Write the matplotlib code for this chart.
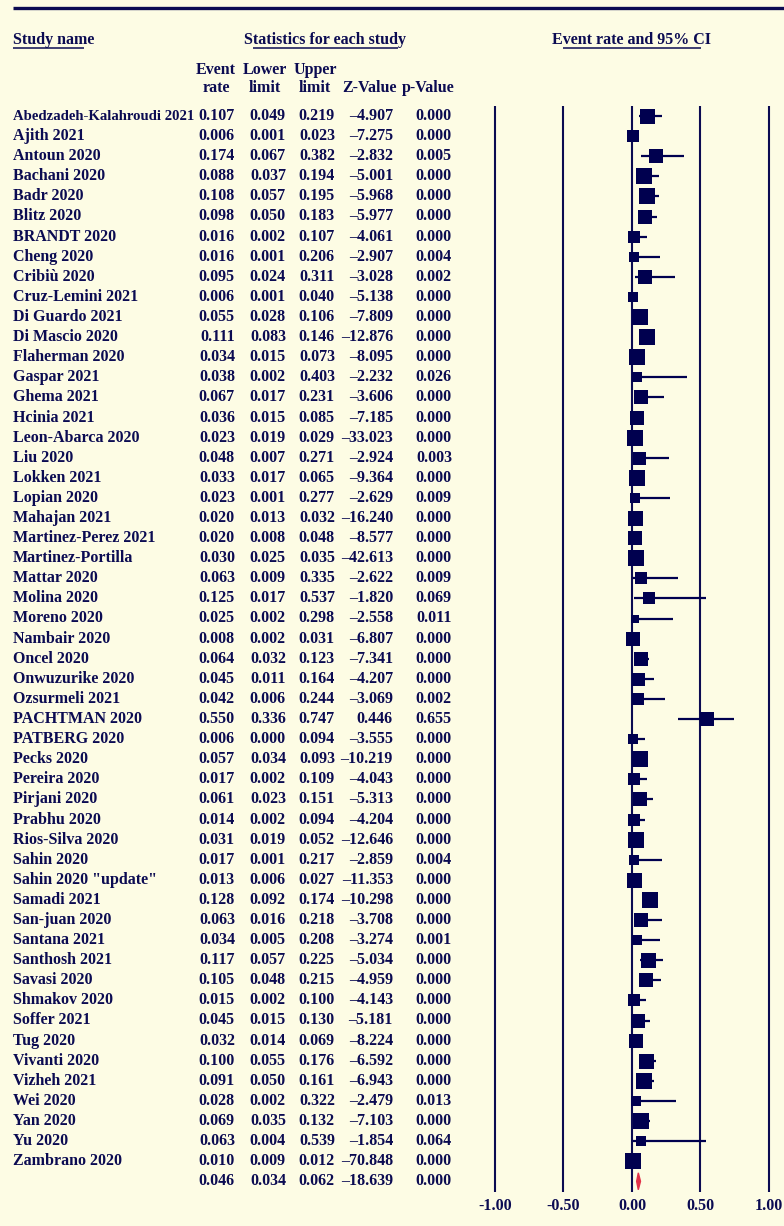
import matplotlib
matplotlib.use("Agg")
import matplotlib.pyplot as plt

# Study table (event rate, 95% CI, Z, p)
studies = ["Abedzadeh-Kalahroudi 2021", "Ajith 2021", "Antoun 2020", "Bachani 2020",
           "Badr 2020", "Blitz 2020", "BRANDT 2020", "Cheng 2020", "Cribiù 2020",
           "Cruz-Lemini 2021", "Di Guardo 2021", "Di Mascio 2020", "Flaherman 2020",
           "Gaspar 2021", "Ghema 2021", "Hcinia 2021", "Leon-Abarca 2020", "Liu 2020",
           "Lokken 2021", "Lopian 2020", "Mahajan 2021", "Martinez-Perez 2021",
           "Martinez-Portilla", "Mattar 2020", "Molina 2020", "Moreno 2020",
           "Nambair 2020", "Oncel 2020", "Onwuzurike 2020", "Ozsurmeli 2021",
           "PACHTMAN 2020", "PATBERG 2020", "Pecks 2020", "Pereira 2020", "Pirjani 2020",
           "Prabhu 2020", "Rios-Silva 2020", "Sahin 2020", 'Sahin 2020 "update"',
           "Samadi 2021", "San-juan 2020", "Santana 2021", "Santhosh 2021", "Savasi 2020",
           "Shmakov 2020", "Soffer 2021", "Tug 2020", "Vivanti 2020", "Vizheh 2021",
           "Wei 2020", "Yan 2020", "Yu 2020", "Zambrano 2020"]
event_rate = [0.107, 0.006, 0.174, 0.088, 0.108, 0.098, 0.016, 0.016, 0.095, 0.006,
              0.055, 0.111, 0.034, 0.038, 0.067, 0.036, 0.023, 0.048, 0.033, 0.023,
              0.020, 0.020, 0.030, 0.063, 0.125, 0.025, 0.008, 0.064, 0.045, 0.042,
              0.550, 0.006, 0.057, 0.017, 0.061, 0.014, 0.031, 0.017, 0.013, 0.128,
              0.063, 0.034, 0.117, 0.105, 0.015, 0.045, 0.032, 0.100, 0.091, 0.028,
              0.069, 0.063, 0.010]
lower = [0.049, 0.001, 0.067, 0.037, 0.057, 0.050, 0.002, 0.001, 0.024, 0.001,
         0.028, 0.083, 0.015, 0.002, 0.017, 0.015, 0.019, 0.007, 0.017, 0.001,
         0.013, 0.008, 0.025, 0.009, 0.017, 0.002, 0.002, 0.032, 0.011, 0.006,
         0.336, 0.000, 0.034, 0.002, 0.023, 0.002, 0.019, 0.001, 0.006, 0.092,
         0.016, 0.005, 0.057, 0.048, 0.002, 0.015, 0.014, 0.055, 0.050, 0.002,
         0.035, 0.004, 0.009]
upper = [0.219, 0.023, 0.382, 0.194, 0.195, 0.183, 0.107, 0.206, 0.311, 0.040,
         0.106, 0.146, 0.073, 0.403, 0.231, 0.085, 0.029, 0.271, 0.065, 0.277,
         0.032, 0.048, 0.035, 0.335, 0.537, 0.298, 0.031, 0.123, 0.164, 0.244,
         0.747, 0.094, 0.093, 0.109, 0.151, 0.094, 0.052, 0.217, 0.027, 0.174,
         0.218, 0.208, 0.225, 0.215, 0.100, 0.130, 0.069, 0.176, 0.161, 0.322,
         0.132, 0.539, 0.012]
z_value = [-4.907, -7.275, -2.832, -5.001, -5.968, -5.977, -4.061, -2.907, -3.028, -5.138,
           -7.809, -12.876, -8.095, -2.232, -3.606, -7.185, -33.023, -2.924, -9.364, -2.629,
           -16.240, -8.577, -42.613, -2.622, -1.820, -2.558, -6.807, -7.341, -4.207, -3.069,
           0.446, -3.555, -10.219, -4.043, -5.313, -4.204, -12.646, -2.859, -11.353, -10.298,
           -3.708, -3.274, -5.034, -4.959, -4.143, -5.181, -8.224, -6.592, -6.943, -2.479,
           -7.103, -1.854, -70.848]
p_value = [0.000, 0.000, 0.005, 0.000, 0.000, 0.000, 0.000, 0.004, 0.002, 0.000,
           0.000, 0.000, 0.000, 0.026, 0.000, 0.000, 0.000, 0.003, 0.000, 0.009,
           0.000, 0.000, 0.000, 0.009, 0.069, 0.011, 0.000, 0.000, 0.000, 0.002,
           0.655, 0.000, 0.000, 0.000, 0.000, 0.000, 0.000, 0.004, 0.000, 0.000,
           0.000, 0.001, 0.000, 0.000, 0.000, 0.000, 0.000, 0.000, 0.000, 0.013,
           0.000, 0.064, 0.000]
# relative study weights (box size)
rel_weight = [15.0, 12.0, 14.0, 15.5, 15.5, 14.3, 11.7, 10.0, 13.3, 10.7,
              15.5, 16.7, 15.7, 10.0, 13.3, 14.7, 16.0, 13.0, 15.7, 10.0,
              15.0, 14.5, 16.7, 11.7, 11.3, 8.7, 13.7, 14.7, 13.0, 11.7,
              14.3, 10.0, 16.0, 11.7, 14.0, 11.7, 16.7, 9.7, 15.0, 16.0,
              14.0, 10.7, 15.0, 14.7, 11.7, 13.3, 14.7, 15.0, 15.3, 9.3,
              15.3, 10.3, 16.3]
summary = [0.046, 0.034, 0.062, -18.639, 0.000]
axis_ticks = [-1.0, -0.5, 0.0, 0.5, 1.0]

bg = '#FDFCE4'
navy = '#0B0B52'
box = '#00004F'
red = '#E23249'
font = dict(family='Liberation Serif', weight='bold', color=navy, fontsize=11.5)

W, H = 784, 1226
y0, dy = 116, 20.1  # pixel row of first study and row pitch


def row(px):
    return (px - y0) / dy


fig = plt.figure(figsize=(W / 100, H / 100), dpi=100, facecolor=bg)
ylims = (row(H), row(0))

# text layer in pixel x, row y
tx = fig.add_axes([0, 0, 1, 1])
tx.set_xlim(0, W)
tx.set_ylim(*ylims)
tx.axis('off')

# forest layer in event-rate units
ax = fig.add_axes([0, 0, 1, 1])
ax.set_xlim((0 - 632) / 137, (W - 632) / 137)
ax.set_ylim(*ylims)
ax.axis('off')


def fmt_z(v):
    s = "%.3f" % abs(v)
    return ("\u2013" + s) if v < 0 else s


# top rule and headers
tx.hlines(row(8), 13, W, color=navy, lw=2.4)
tx.text(13, row(40), "Study name", ha='left', va='center', **font)
tx.hlines(row(48), 13, 84, color=navy, lw=1.1)
tx.text(325, row(40), "Statistics for each study", ha='center', va='center', **font)
tx.hlines(row(48), 253, 398, color=navy, lw=1.1)
tx.text(632, row(40), "Event rate and 95% CI", ha='center', va='center', **font)
tx.hlines(row(48), 563, 701, color=navy, lw=1.1)

col_right = [235, 286, 335, 393, 452]
headers = [("Event", "rate", 216), ("Lower", "limit", 265), ("Upper", "limit", 315)]
for top, bot, cx in headers:
    tx.text(cx, row(70), top, ha='center', va='center', **font)
    tx.text(cx, row(88), bot, ha='center', va='center', **font)
tx.text(370, row(88), "Z-Value", ha='center', va='center', **font)
tx.text(428, row(88), "p-Value", ha='center', va='center', **font)

# study rows
name_font = dict(font)
for i, name in enumerate(studies):
    # the long first name runs right up to the first number column
    name_font['fontsize'] = 10.6 if len(name) > 22 else 11.5
    tx.text(13, i, name, ha='left', va='center', **name_font)
    vals = ["%.3f" % event_rate[i], "%.3f" % lower[i], "%.3f" % upper[i],
            fmt_z(z_value[i]), "%.3f" % p_value[i]]
    for xr, s in zip(col_right, vals):
        tx.text(xr, i, s, ha='right', va='center', **font)

n = len(studies)
svals = ["%.3f" % summary[0], "%.3f" % summary[1], "%.3f" % summary[2],
         fmt_z(summary[3]), "%.3f" % summary[4]]
for xr, s in zip(col_right, svals):
    tx.text(xr, n, s, ha='right', va='center', **font)

# grid lines
ax.vlines(axis_ticks, row(106), row(1192), color=navy, lw=1.5)
for t in axis_ticks:
    ax.text(t, row(1206), "%.2f" % t, ha='center', va='center', **font)

# CIs and boxes
for i in range(n):
    ax.hlines(i, lower[i], upper[i], color=box, lw=1.6)
    ax.plot(event_rate[i], i, marker='s', ms=rel_weight[i] * 0.72,
            color=box, mec=box, mew=0)

# pooled diamond
est, lo, hi = summary[0], summary[1], summary[2]
h = 0.42
ax.fill([lo, est, hi, est], [n, n - h, n, n + h], facecolor=red,
        edgecolor=red, lw=1.0, zorder=5)

fig.savefig("out.png", dpi=100, facecolor=bg)
